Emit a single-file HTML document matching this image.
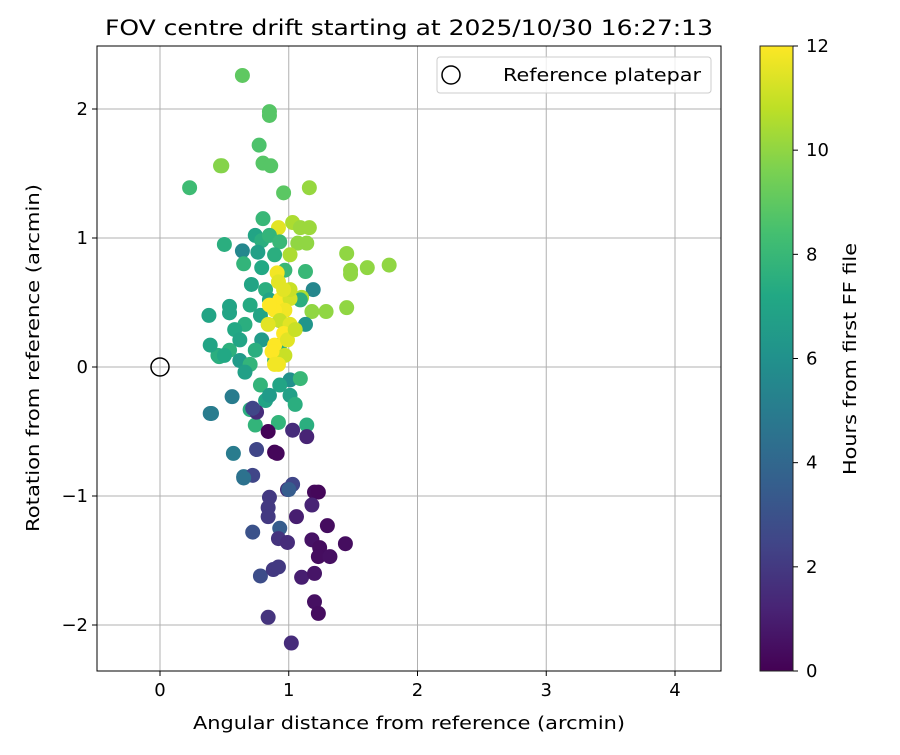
<!DOCTYPE html>
<html><head><meta charset="utf-8"><style>
body{margin:0;background:#fff;}
svg text{font-family:"DejaVu Sans","Liberation Sans",sans-serif;fill:#000;}
</style></head><body>
<svg id="chart" width="900" height="750" viewBox="0 0 900 750" xmlns="http://www.w3.org/2000/svg">
<defs>
<linearGradient id="vir" x1="0" y1="1" x2="0" y2="0">
<stop offset="0" stop-color="#440154"/><stop offset="0.1" stop-color="#482475"/><stop offset="0.2" stop-color="#414487"/><stop offset="0.3" stop-color="#355f8d"/><stop offset="0.4" stop-color="#2a788e"/><stop offset="0.5" stop-color="#21918c"/><stop offset="0.6" stop-color="#22a884"/><stop offset="0.7" stop-color="#44bf70"/><stop offset="0.8" stop-color="#7ad151"/><stop offset="0.9" stop-color="#bddf26"/><stop offset="1" stop-color="#fde725"/>
</linearGradient>
<clipPath id="clip"><rect x="97" y="46" width="624" height="625"/></clipPath>
</defs>
<text x="409" y="35" font-size="21" textLength="608" lengthAdjust="spacingAndGlyphs" text-anchor="middle">FOV centre drift starting at 2025/10/30 16:27:13</text>
<g id="grid"></g>
<g id="points" clip-path="url(#clip)"></g>
<rect x="97" y="46" width="624" height="625" fill="none" stroke="#000" stroke-width="1"/>
<g id="ticks"></g>
<text x="409" y="729" font-size="18" textLength="432" lengthAdjust="spacingAndGlyphs" text-anchor="middle">Angular distance from reference (arcmin)</text>
<text transform="translate(39,358) rotate(-90)" font-size="18" textLength="348" lengthAdjust="spacingAndGlyphs" text-anchor="middle">Rotation from reference (arcmin)</text>
<g>
<rect x="437" y="57" width="274" height="36" rx="3" fill="#fff" fill-opacity="0.8" stroke="#ccc"/>
<circle cx="451" cy="75" r="9" fill="none" stroke="#000" stroke-width="1.5"/>
<text x="503" y="81" font-size="18" textLength="198" lengthAdjust="spacingAndGlyphs">Reference platepar</text>
</g>
<rect x="760" y="46" width="33" height="625" fill="url(#vir)" stroke="#222" stroke-width="1"/>
<g id="cbticks"></g>
<text transform="translate(856,359) rotate(-90)" font-size="18" textLength="232" lengthAdjust="spacingAndGlyphs" text-anchor="middle">Hours from first FF file</text>
</svg>
<script>
const xs=[0.64,0.85,0.85,0.77,0.47,0.48,0.80,0.86,0.23,0.96,1.16,0.80,1.03,0.92,1.09,1.16,0.50,0.64,0.65,1.07,1.14,1.01,1.45,1.48,1.48,1.61,1.78,1.13,1.19,1.45,1.18,1.29,1.10,0.38,0.54,0.54,0.45,0.46,0.39,0.40,0.56,0.57,0.65,
0.74,0.79,0.85,0.93,0.76,0.89,0.79,0.97,0.71,0.82,0.85,0.70,0.78,0.66,0.58,0.54,0.62,0.70,0.66,0.79,0.93,0.89,1.01,0.78,0.93,1.09,0.82,1.01,1.05,0.70,0.74,0.85,0.93,1.01,1.09,1.13,0.62,0.74,0.39,0.50,1.14,0.92,
0.91,0.92,0.93,1.01,0.97,0.89,0.93,1.01,0.96,0.84,0.89,0.97,0.92,0.87,0.99,1.05,0.85,1.01,0.96,0.89,
0.84,1.03,1.14,0.89,0.91,0.75,0.72,0.75,0.72,0.65,
1.03,0.99,1.00,1.20,1.23,1.18,0.85,0.84,0.84,1.06,1.30,0.72,0.93,0.92,0.99,1.18,1.24,1.23,1.32,1.44,0.78,0.88,0.92,1.10,1.20,1.20,1.23,0.84,1.02];
const ys=[2.26,1.98,1.95,1.72,1.56,1.56,1.58,1.56,1.39,1.35,1.39,1.15,1.12,1.08,1.08,1.08,0.95,0.90,0.80,0.96,0.96,0.87,0.88,0.75,0.72,0.77,0.79,0.74,0.60,0.46,0.43,0.43,0.54,0.40,0.47,0.42,0.09,0.08,-0.36,-0.36,-0.23,-0.67,-0.85,
1.02,0.98,1.02,0.97,0.89,0.87,0.77,0.75,0.64,0.60,0.52,0.48,0.40,0.33,0.29,0.13,0.05,0.02,-0.04,0.21,0.17,0.05,-0.10,-0.14,-0.14,-0.09,-0.26,-0.22,-0.29,-0.33,-0.45,-0.22,0.36,0.29,0.52,0.33,0.21,0.13,0.17,0.09,-0.45,-0.43,
0.73,0.66,0.52,0.53,0.44,0.44,0.36,0.33,0.26,0.33,0.17,0.09,0.02,0.12,0.21,0.29,0.48,0.60,0.60,0.02,
-0.50,-0.49,-0.54,-0.66,-0.67,-0.35,-0.32,-0.64,-0.84,-0.86,
-0.91,-0.95,-0.95,-0.97,-0.97,-1.07,-1.01,-1.09,-1.16,-1.16,-1.23,-1.28,-1.25,-1.33,-1.36,-1.34,-1.40,-1.47,-1.47,-1.37,-1.62,-1.57,-1.55,-1.63,-1.60,-1.82,-1.91,-1.94,-2.14];
const hours=[9,8.8,8.8,8.6,9.8,9.8,8.8,8.8,8.2,8.9,10.1,8,10.5,11.5,10.2,10.2,7.5,5.5,7.8,10,10,10.5,10,10,10,10,10,8,5.5,10,10,10,10.5,7,7,7,7.5,7.5,5,5,5,5,4.5,
7,7.5,7.8,8,6.8,7.5,7.2,8,7,7.5,7,7.3,7,7.5,7.2,7.6,6.5,7.8,6.8,6.5,7.5,7.8,6,7.8,7,8,7,6.8,7.5,7.5,7.8,6.5,6,6.5,7.5,6.2,7,7.5,7,7.2,7.5,7.8,
11.8,11.5,12,11.2,11.8,12,11,11.5,12,11.5,12,11,11.8,12,11.5,11,12,11,11.5,11.8,
0.1,1.5,1.2,0.1,0.2,1.5,2.5,2.5,2.5,4.5,
2.5,1.5,3.5,0.3,0.2,1.2,2,2,2,1,0.4,3,3.5,1.8,1.5,0.6,0.4,0.4,0.5,0.4,2.8,2,2,1,0.7,0.5,0.4,1.8,1.5];
const xTicks=[0,1,2,3,4];
const yTicks=[-2,-1,0,1,2];
const cTicks=[0,2,4,6,8,10,12];
const refX=[0], refY=[0];

const NS="http://www.w3.org/2000/svg";
const sx=v=>160+v*128.75, sy=v=>367-v*129, sc=v=>671-v/12*625;
const stops=["#440154","#482475","#414487","#355f8d","#2a788e","#21918c","#22a884","#44bf70","#7ad151","#bddf26","#fde725"];
function hex(h){return [1,3,5].map(i=>parseInt(h.substr(i,2),16));}
function vir(t){t=Math.max(0,Math.min(1,t))*10;const i=Math.min(9,Math.floor(t)),f=t-i;const a=hex(stops[i]),b=hex(stops[i+1]);return "rgb("+a.map((c,k)=>Math.round(c+(b[k]-c)*f)).join(",")+")";}
function mk(tag,attrs,parent){const e=document.createElementNS(NS,tag);for(const k in attrs)e.setAttribute(k,attrs[k]);parent.appendChild(e);return e;}
const grid=document.getElementById("grid"),ticks=document.getElementById("ticks"),pts=document.getElementById("points"),cb=document.getElementById("cbticks");
xTicks.forEach(v=>{
 const l=mk("line",{x1:sx(v),x2:sx(v),y1:46,y2:671,stroke:"#b0b0b0","stroke-width":1},grid);
 
 
 mk("line",{x1:sx(v),x2:sx(v),y1:671,y2:676,stroke:"#000"},ticks);
 const t=mk("text",{x:sx(v),y:696,"font-size":18,"text-anchor":"middle"},ticks);t.textContent=v;
 
 
});
yTicks.forEach(v=>{
 const l=mk("line",{x1:97,x2:721,y1:sy(v),y2:sy(v),stroke:"#b0b0b0","stroke-width":1},grid);
 
 
 mk("line",{x1:92,x2:97,y1:sy(v),y2:sy(v),stroke:"#000"},ticks);
 const t=mk("text",{x:88,y:sy(v)+6,"font-size":18,"text-anchor":"end"},ticks);t.textContent=v<0?"\u2212"+(-v):v;
 
 
});
xs.forEach((x,i)=>{
 const c=mk("circle",{cx:sx(x),cy:sy(ys[i]),r:7.5,fill:vir(hours[i]/12)},pts);
 
 
});
refX.forEach((x,i)=>{
 const c=mk("circle",{cx:sx(x),cy:sy(refY[i]),r:9,fill:"none",stroke:"#000","stroke-width":1.5},pts);
 
 
});
cTicks.forEach(v=>{
 mk("line",{x1:793,x2:798,y1:sc(v),y2:sc(v),stroke:"#000"},cb);
 const t=mk("text",{x:806,y:sc(v)+6,"font-size":18},cb);t.textContent=v;
 
 
});
</script>
</body></html>
